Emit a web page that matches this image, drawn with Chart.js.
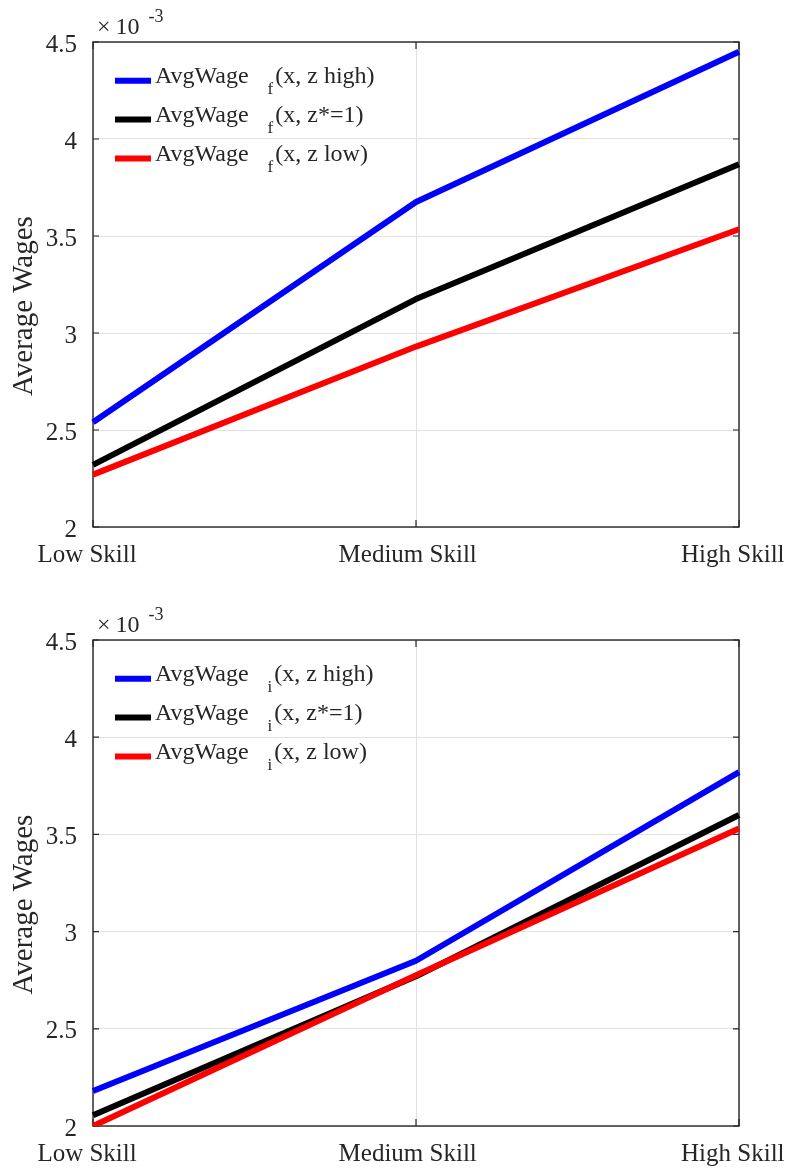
<!DOCTYPE html>
<html>
<head>
<meta charset="utf-8">
<title>Average Wages by Skill</title>
<script src="https://cdn.jsdelivr.net/npm/chart.js@4.4.1/dist/chart.umd.min.js"></script>
<style>
  html, body { margin: 0; padding: 0; background: #ffffff; }
  canvas { display: block; position: absolute; left: 0; }
</style>
</head>
<body>
<canvas id="formalChart" width="790" height="584" style="top:0px"></canvas>
<canvas id="informalChart" width="790" height="585" style="top:584px"></canvas>
<script>
// Skill categories and y-axis ticks (wages in units of 1e-3)
const skillLevels = ['Low Skill', 'Medium Skill', 'High Skill'];
const wageTicks = [2, 2.5, 3, 3.5, 4, 4.5];
const wageExponent = '-3';

// Formal sector average wages
const formalHighZ = [2.54, 3.675, 4.45];
const formalStarZ = [2.32, 3.175, 3.87];
const formalLowZ  = [2.27, 2.93, 3.535];

// Informal sector average wages
const informalHighZ = [2.18, 2.85, 3.82];
const informalStarZ = [2.055, 2.77, 3.60];
const informalLowZ  = [2.0, 2.775, 3.53];

// Legend pieces
const legendStem = 'AvgWage';
const legendArgs = ['(x, z high)', '(x, z*=1)', '(x, z low)'];
const lineColors = ['#0000ff', '#000000', '#ff0000'];
const yAxisTitle = 'Average Wages';

const SERIF = '"Liberation Serif", "Times New Roman", Times, serif';
const INK = '#262626';

// Box, inward tick marks, tick labels, exponent, axis title and legend
const matlabStyle = {
  id: 'matlabStyle',
  beforeDatasetsDraw(chart) {
    const { ctx, chartArea: a, scales } = chart;
    ctx.save();
    ctx.strokeStyle = INK;
    ctx.lineWidth = 1.4;
    ctx.strokeRect(a.left, a.top, a.right - a.left, a.bottom - a.top);
    ctx.lineWidth = 1.2;
    ctx.beginPath();
    wageTicks.forEach(v => {
      const y = scales.y.getPixelForValue(v);
      ctx.moveTo(a.left, y); ctx.lineTo(a.left + 6, y);
      ctx.moveTo(a.right, y); ctx.lineTo(a.right - 6, y);
    });
    skillLevels.forEach((_, i) => {
      const x = scales.x.getPixelForValue(i);
      ctx.moveTo(x, a.bottom); ctx.lineTo(x, a.bottom - 7);
      ctx.moveTo(x, a.top); ctx.lineTo(x, a.top + 7);
    });
    ctx.stroke();
    ctx.restore();
  },
  afterDraw(chart, args, opts) {
    const { ctx, chartArea: a, scales } = chart;
    ctx.save();
    ctx.fillStyle = INK;
    ctx.textBaseline = 'alphabetic';

    // y tick labels
    ctx.font = `25px ${SERIF}`;
    ctx.textAlign = 'right';
    wageTicks.forEach(v => {
      ctx.fillText(String(v), a.left - 16, scales.y.getPixelForValue(v) + 9.5);
    });

    // x tick labels
    ctx.textAlign = 'left';
    skillLevels.forEach((lab, i) => {
      const w = ctx.measureText(lab).width;
      ctx.fillText(lab, scales.x.getPixelForValue(i) - 0.56 * w, a.bottom + 35);
    });

    // exponent label above the axis
    ctx.font = `24px ${SERIF}`;
    const ex = a.left + 4;
    ctx.fillText('\u00d7', ex, a.top - 8);
    const tx = ex + ctx.measureText('\u00d7').width + 5;
    ctx.fillText('10', tx, a.top - 8);
    const sx = tx + ctx.measureText('10').width + 9;
    ctx.font = `18px ${SERIF}`;
    ctx.fillText(wageExponent, sx, a.top - 20);

    // y axis title
    ctx.font = `29px ${SERIF}`;
    const tw = ctx.measureText(yAxisTitle).width;
    const cy = (a.top + a.bottom) / 2;
    ctx.translate(a.left - 61, cy + 0.62 * tw);
    ctx.rotate(-Math.PI / 2);
    ctx.fillText(yAxisTitle, 0, 0);
    ctx.setTransform(1, 0, 0, 1, 0, 0);

    // legend, transparent, inside upper left
    const lx = a.left + 22;
    chart.data.datasets.forEach((ds, i) => {
      const y = a.top + 38.8 + i * 38.8;
      ctx.strokeStyle = ds.borderColor;
      ctx.lineWidth = 6;
      ctx.beginPath();
      ctx.moveTo(lx, y); ctx.lineTo(lx + 36, y);
      ctx.stroke();
      let x = lx + 40;
      ctx.font = `24px ${SERIF}`;
      ctx.fillText(legendStem, x, y + 2.5);
      x += ctx.measureText(legendStem).width + 19;
      ctx.font = `17px ${SERIF}`;
      ctx.fillText(opts.sub, x, y + 13.5);
      x += ctx.measureText(opts.sub).width + 2;
      ctx.font = `24px ${SERIF}`;
      ctx.fillText(legendArgs[i], x, y + 2.5);
    });
    ctx.restore();
  }
};

function buildChart(id, series, sub, pad) {
  const datasets = series.map((vals, i) => ({
    label: legendStem + '_' + sub + legendArgs[i],
    data: vals,
    borderColor: lineColors[i],
    backgroundColor: lineColors[i],
    borderWidth: 6,
    borderJoinStyle: 'round',
    pointRadius: 0,
    tension: 0,
    fill: false,
    order: series.length - i
  }));
  return new Chart(document.getElementById(id), {
    type: 'line',
    data: { labels: skillLevels, datasets },
    options: {
      responsive: false,
      maintainAspectRatio: false,
      animation: false,
      devicePixelRatio: 1,
      layout: { padding: pad },
      plugins: {
        legend: { display: false },
        tooltip: { enabled: false },
        matlabStyle: { sub }
      },
      scales: {
        x: {
          type: 'category',
          offset: false,
          grid: { display: true, color: '#e2e2e2', lineWidth: 1, drawTicks: false },
          border: { display: false },
          ticks: { display: false }
        },
        y: {
          min: 2, max: 4.5,
          afterBuildTicks: s => { s.ticks = wageTicks.map(v => ({ value: v })); },
          grid: { display: true, color: '#e2e2e2', lineWidth: 1, drawTicks: false },
          border: { display: false },
          ticks: { display: false }
        }
      }
    },
    plugins: [matlabStyle]
  });
}

buildChart('formalChart', [formalHighZ, formalStarZ, formalLowZ], 'f',
  { left: 93, right: 51, top: 42, bottom: 57 });
buildChart('informalChart', [informalHighZ, informalStarZ, informalLowZ], 'i',
  { left: 93, right: 51, top: 56, bottom: 43 });
</script>
</body>
</html>
